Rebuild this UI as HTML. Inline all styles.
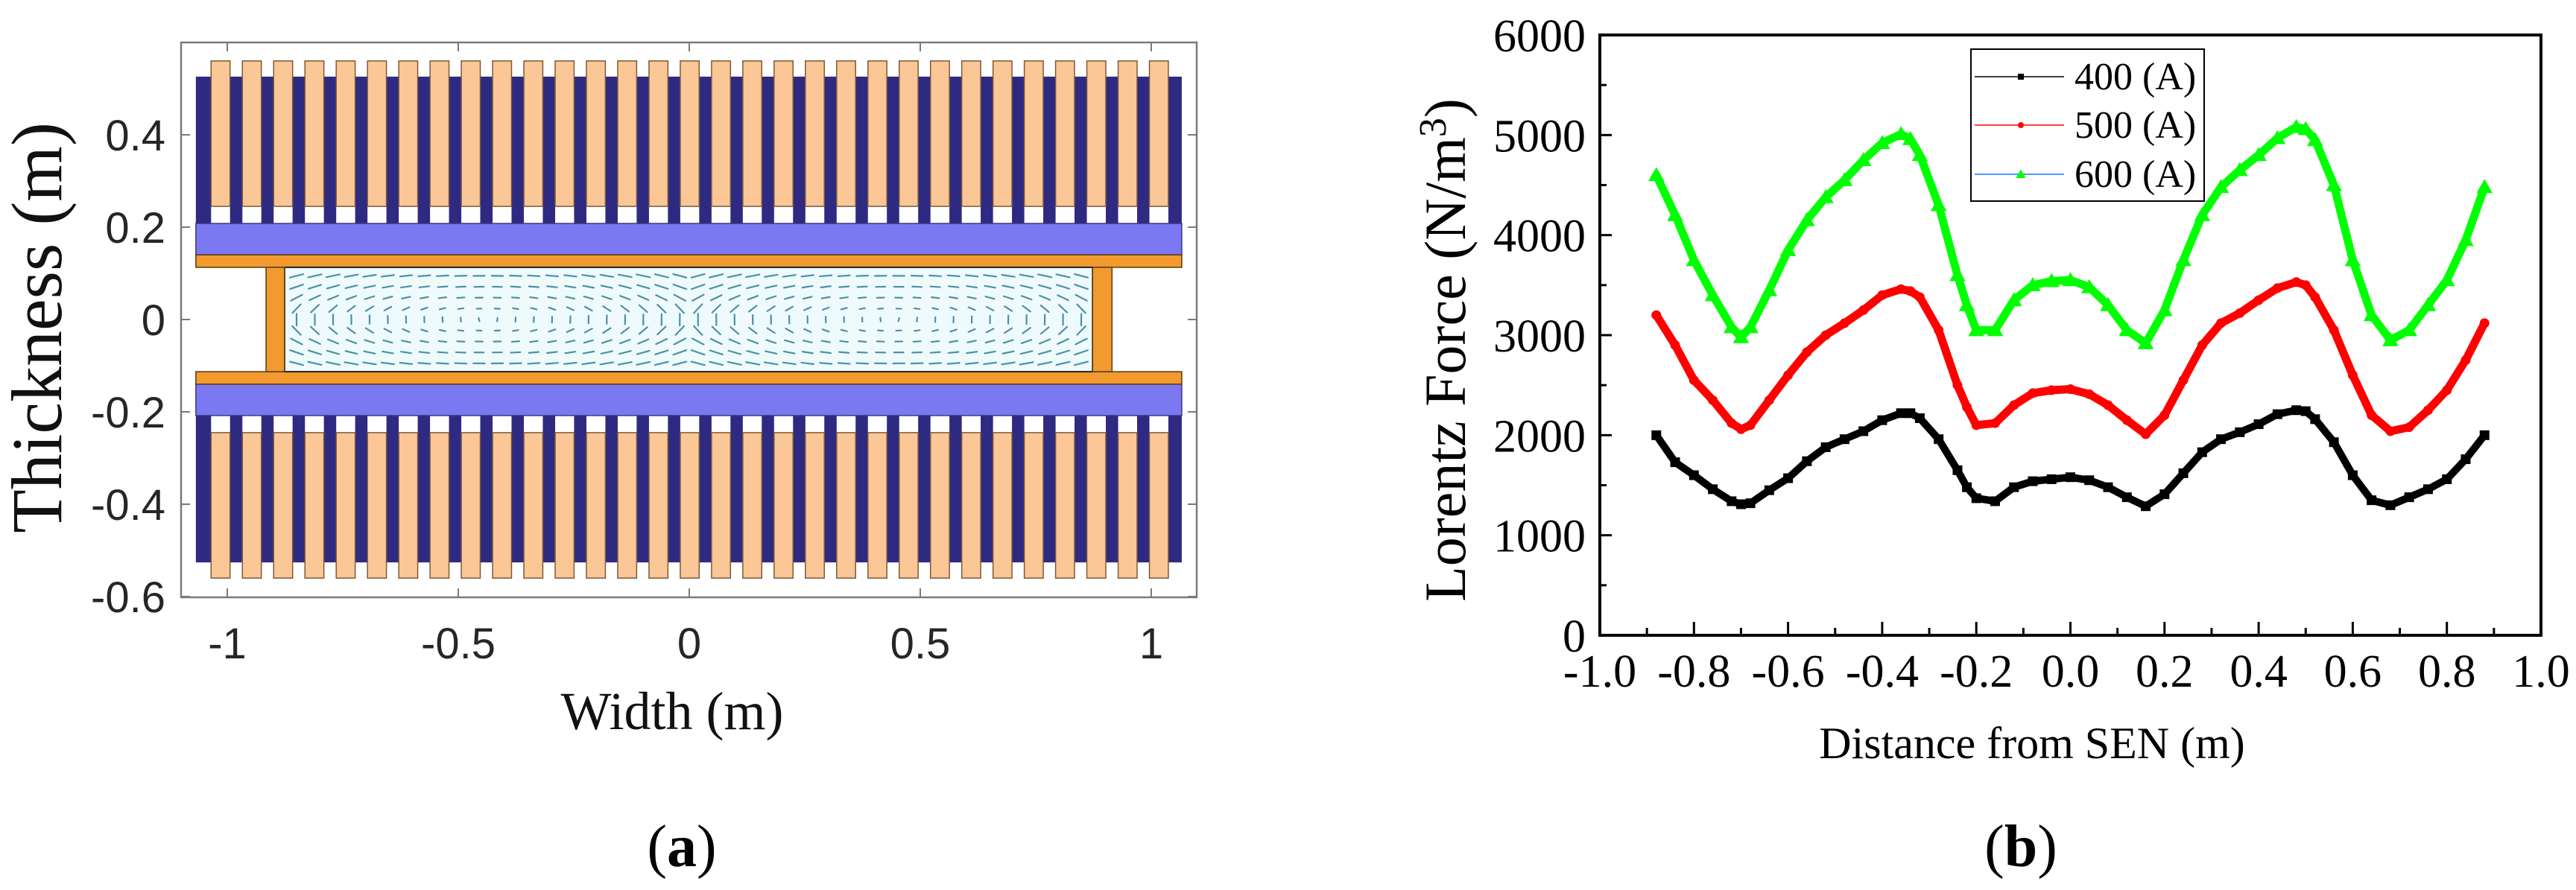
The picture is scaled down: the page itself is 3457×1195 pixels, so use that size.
<!DOCTYPE html>
<html><head><meta charset="utf-8"><style>
html,body{margin:0;padding:0;background:#fff;}
svg{display:block;}
</style></head><body>
<svg id="fig" width="3457" height="1195" viewBox="0 0 3457 1195" xmlns="http://www.w3.org/2000/svg">
<g id="panelA"></g>
<g id="panelB"></g>
</svg>
<script>
// ---------- Chart (b) data ----------
const xValues = [-0.88,-0.84,-0.80,-0.76,-0.72,-0.70,-0.68,-0.64,-0.60,-0.56,-0.52,-0.48,-0.44,-0.40,-0.36,-0.34,-0.32,-0.28,-0.24,-0.22,-0.20,-0.16,-0.12,-0.08,-0.04,0.00,0.04,0.08,0.12,0.16,0.20,0.24,0.28,0.32,0.36,0.40,0.44,0.48,0.50,0.52,0.56,0.60,0.64,0.68,0.72,0.76,0.80,0.84,0.88];
const series400 = [2000,1730,1600,1460,1340,1310,1320,1450,1570,1740,1880,1960,2040,2150,2220,2220,2170,1960,1650,1480,1370,1340,1480,1540,1560,1580,1550,1480,1380,1290,1410,1620,1830,1960,2030,2110,2210,2250,2240,2160,1930,1600,1350,1300,1380,1460,1560,1760,2000];
const series500 = [3200,2900,2550,2350,2120,2060,2100,2350,2600,2830,3000,3120,3250,3400,3460,3440,3380,3050,2500,2280,2100,2120,2300,2420,2450,2460,2410,2300,2150,2010,2200,2550,2900,3120,3220,3350,3470,3530,3500,3380,3050,2600,2200,2040,2080,2250,2450,2750,3120];
const series600 = [4600,4200,3750,3400,3080,2980,3080,3450,3850,4150,4380,4550,4750,4920,5010,4960,4800,4300,3600,3300,3050,3050,3350,3500,3540,3550,3480,3300,3050,2920,3250,3750,4200,4480,4650,4800,4970,5080,5060,4950,4500,3750,3200,2950,3050,3300,3550,3950,4480];
const yTickValues = [0,1000,2000,3000,4000,5000,6000];
const xTickLabels = ["-1.0","-0.8","-0.6","-0.4","-0.2","0.0","0.2","0.4","0.6","0.8","1.0"];
const xTickValues = [-1.0,-0.8,-0.6,-0.4,-0.2,0.0,0.2,0.4,0.6,0.8,1.0];
const legendLabels = ["400 (A)","500 (A)","600 (A)"];

// ---------- Panel (a) tick data ----------
const aXTicks = [-1,-0.5,0,0.5,1];
const aXTickLabels = ["-1","-0.5","0","0.5","1"];
const aYTicks = [0.4,0.2,0,-0.2,-0.4,-0.6];
const aYTickLabels = ["0.4","0.2","0","-0.2","-0.4","-0.6"];

const NS="http://www.w3.org/2000/svg";
function mk(tag, attrs, parent){const e=document.createElementNS(NS,tag);for(const k in attrs)e.setAttribute(k,attrs[k]);parent.appendChild(e);return e;}

// ================= Panel A =================
const A=document.getElementById('panelA');
const ax=x=>925+x*620, ay=y=>429-y*620;
function rectD(x0,y0,x1,y1,fill,stroke,sw,parent){return mk('rect',{x:ax(Math.min(x0,x1)),y:ay(Math.max(y0,y1)),width:Math.abs(ax(x1)-ax(x0)),height:Math.abs(ay(y1)-ay(y0)),fill:fill,stroke:stroke||'none','stroke-width':sw||0},parent);}
const frameA=mk('rect',{x:243,y:57,width:1363,height:745,fill:'#fff',stroke:'#7a7a7a','stroke-width':2.5},A);


[1,-1].forEach(s=>{
  const g=mk('g',{},A);
  
  
  rectD(-1.068,0.208*s,1.066,0.526*s,'#2e2a82','none',0,g);
  for(let i=0;i<31;i++){
    const x0=-1.035+i*0.0677;
    rectD(x0,0.208*s,x0+0.041,0.245*s,'#ffffff','none',0,g);
    const b=rectD(x0,0.245*s,x0+0.041,0.56*s,'#fbc796','#7a5a3a',1.5,g);
    
    
  }
  const lav=rectD(-1.068,0.14*s,1.066,0.208*s,'#7b78f2','#3a3880',1.5,g);
  
  
  const orp=rectD(-1.068,0.113*s,1.066,0.14*s,'#f29a2e','#5a3a10',1.5,g);
  
  
});
const fluid=rectD(-0.876,-0.113,0.873,0.113,'#effafd','#222',2,A);


const wl=rectD(-0.916,-0.113,-0.876,0.113,'#f29a2e','#5a3a10',1.5,A);


const wr=rectD(0.873,-0.113,0.915,0.113,'#f29a2e','#5a3a10',1.5,A);


// velocity quiver (decorative flow pattern)
const q=mk('g',{stroke:'#2f7f98','stroke-width':2.2,'stroke-linecap':'round',opacity:0.85},A);


for(let i=0;i<44;i++){for(let j=0;j<9;j++){
  const x=-0.85+i*0.0395, y=-0.095+j*0.0237;
  const cx = x<0?-0.44:0.44;
  const dx=(x-cx)/0.42, dy=y/0.1;
  let u=-dy, v=dx*0.25; const m=Math.sqrt(dx*dx+dy*dy);
  if(x>0){u=-u;v=-v;}
  const L=4+12*Math.min(m,1.2);
  const n=Math.sqrt(u*u+v*v)||1;
  const X=ax(x),Y=ay(y);
  mk('line',{x1:X-u/n*L/2,y1:Y+v/n*L/2,x2:X+u/n*L/2,y2:Y-v/n*L/2},q);
}}
// ticks and labels A
const ta=mk('g',{stroke:'#7a7a7a','stroke-width':2},A);
aXTicks.forEach(v=>{mk('line',{x1:ax(v),y1:802,x2:ax(v),y2:790},ta);mk('line',{x1:ax(v),y1:57,x2:ax(v),y2:69},ta);});
aYTicks.concat([0.6]).forEach(v=>{mk('line',{x1:243,y1:ay(v),x2:255,y2:ay(v)},ta);mk('line',{x1:1606,y1:ay(v),x2:1594,y2:ay(v)},ta);});
aXTicks.forEach((v,i)=>{const t=mk('text',{x:ax(v),y:884,'text-anchor':'middle','font-family':'Liberation Sans, sans-serif','font-size':58,fill:'#262626'},A);t.textContent=aXTickLabels[i];
  
  });
aYTicks.forEach((v,i)=>{const t=mk('text',{x:222,y:ay(v)+21,'text-anchor':'end','font-family':'Liberation Sans, sans-serif','font-size':58,fill:'#262626'},A);t.textContent=aYTickLabels[i];
  
  });
</script>
<script>
// static titles for panel A
(function(){
const A=document.getElementById('panelA');
function txt(s,attrs,name){const t=document.createElementNS("http://www.w3.org/2000/svg",'text');for(const k in attrs)t.setAttribute(k,attrs[k]);t.textContent=s;A.appendChild(t);

return t;}
txt('Width (m)',{x:902,y:979,'text-anchor':'middle','font-family':'Liberation Serif, serif','font-size':72,fill:'#111'},'x-axis-title');
txt('Thickness (m)',{x:0,y:0,transform:'translate(82,440) rotate(-90)','text-anchor':'middle','font-family':'Liberation Serif, serif','font-size':96,fill:'#111'},'y-axis-title');
const c=txt('',{x:915,y:1163,'text-anchor':'middle','font-family':'Liberation Serif, serif','font-size':80,fill:'#000'},'panel-a-caption');
c.innerHTML='(<tspan font-weight="bold">a</tspan>)';
})();
</script>
<script>
// ================= Panel B =================
(function(){
const B=document.getElementById('panelB');
const NS="http://www.w3.org/2000/svg";
function mk(tag,attrs,parent){const e=document.createElementNS(NS,tag);for(const k in attrs)e.setAttribute(k,attrs[k]);parent.appendChild(e);return e;}
const L=2147,R=3410,T=47,Bt=853;
const bx=x=>L+(x+1)/2*(R-L);
const by=v=>Bt-v/6000*(Bt-T);
const ticks=mk('g',{stroke:'#000','stroke-width':3},B);


for(let v=0;v<=6000;v+=500){const len=v%1000===0?16:9;mk('line',{x1:L,y1:by(v),x2:L+len,y2:by(v)},ticks);}
for(let i=-10;i<=10;i++){const x=i/10;const len=i%2===0?18:10;mk('line',{x1:bx(x),y1:Bt,x2:bx(x),y2:Bt-len},ticks);}
yTickValues.forEach(v=>{const t=mk('text',{x:2128,y:by(v)+22,'text-anchor':'end','font-family':'Liberation Serif, serif','font-size':62,fill:'#000'},B);t.textContent=String(v);
  
  });
xTickValues.forEach((v,i)=>{const t=mk('text',{x:bx(v),y:922,'text-anchor':'middle','font-family':'Liberation Serif, serif','font-size':62,fill:'#000'},B);t.textContent=xTickLabels[i];
  
  });
const xt=mk('text',{x:2727,y:1018,'text-anchor':'middle','font-family':'Liberation Serif, serif','font-size':60,fill:'#000'},B);
xt.textContent='Distance from SEN (m)';


const yt=mk('text',{x:0,y:0,transform:'translate(1966,470) rotate(-90)','text-anchor':'middle','font-family':'Liberation Serif, serif','font-size':78,fill:'#000'},B);
yt.innerHTML='Lorentz Force (N/m<tspan dy="-26" font-size="52">3</tspan><tspan dy="26">)</tspan>';


const cap=mk('text',{x:2712,y:1163,'text-anchor':'middle','font-family':'Liberation Serif, serif','font-size':80,fill:'#000'},B);
cap.innerHTML='(<tspan font-weight="bold">b</tspan>)';



const defs=[{d:series400,color:'#000',line:'#000',m:'sq',name:'series-400a'},{d:series500,color:'#f00',line:'#f00',m:'ci',name:'series-500a'},{d:series600,color:'#0f0',line:'#1e6fff',m:'tr',name:'series-600a'}];
function marker(type,x,y,color,g,s){
  if(type==='sq') return mk('rect',{x:x-s/2,y:y-s/2,width:s,height:s,fill:color},g);
  if(type==='ci') return mk('circle',{cx:x,cy:y,r:s/2,fill:color},g);
  return mk('polygon',{points:`${x},${y-s*0.6} ${x-s*0.6},${y+s*0.45} ${x+s*0.6},${y+s*0.45}`,fill:color},g);
}
defs.forEach(s=>{
  const g=mk('g',{},B);
  
  
  const pts=xValues.map((x,i)=>bx(x)+','+by(s.d[i])).join(' ');
  const sw = s.m==='tr'?11:(s.m==='ci'?11:10);
  const pl=mk('polyline',{points:pts,fill:'none',stroke:s.color,'stroke-width':sw,'stroke-linejoin':'round'},g);
  
  
  xValues.forEach((x,i)=>{const m=marker(s.m,bx(x),by(s.d[i]),s.color,g,s.m==='tr'?18:13);
    
    });
});
const frame=mk('rect',{x:L,y:T,width:R-L,height:Bt-T,fill:'none',stroke:'#000','stroke-width':4},B);


// legend
const lg=mk('g',{},B);


mk('rect',{x:2645,y:66,width:313,height:204,fill:'#fff',stroke:'#000','stroke-width':2},lg);
const ly=[103,168,234];
defs.forEach((s,i)=>{
  const e=mk('g',{},lg);
  
  
  mk('line',{x1:2650,y1:ly[i],x2:2770,y2:ly[i],stroke:s.line,'stroke-width':1.5},e);
  marker(s.m,2712,ly[i],s.color,e,s.m==='tr'?11:8);
  const t=mk('text',{x:2784,y:ly[i]+17,'font-family':'Liberation Serif, serif','font-size':52,fill:'#000'},e);
  t.textContent=legendLabels[i];
});
})();
</script>
</body></html>
